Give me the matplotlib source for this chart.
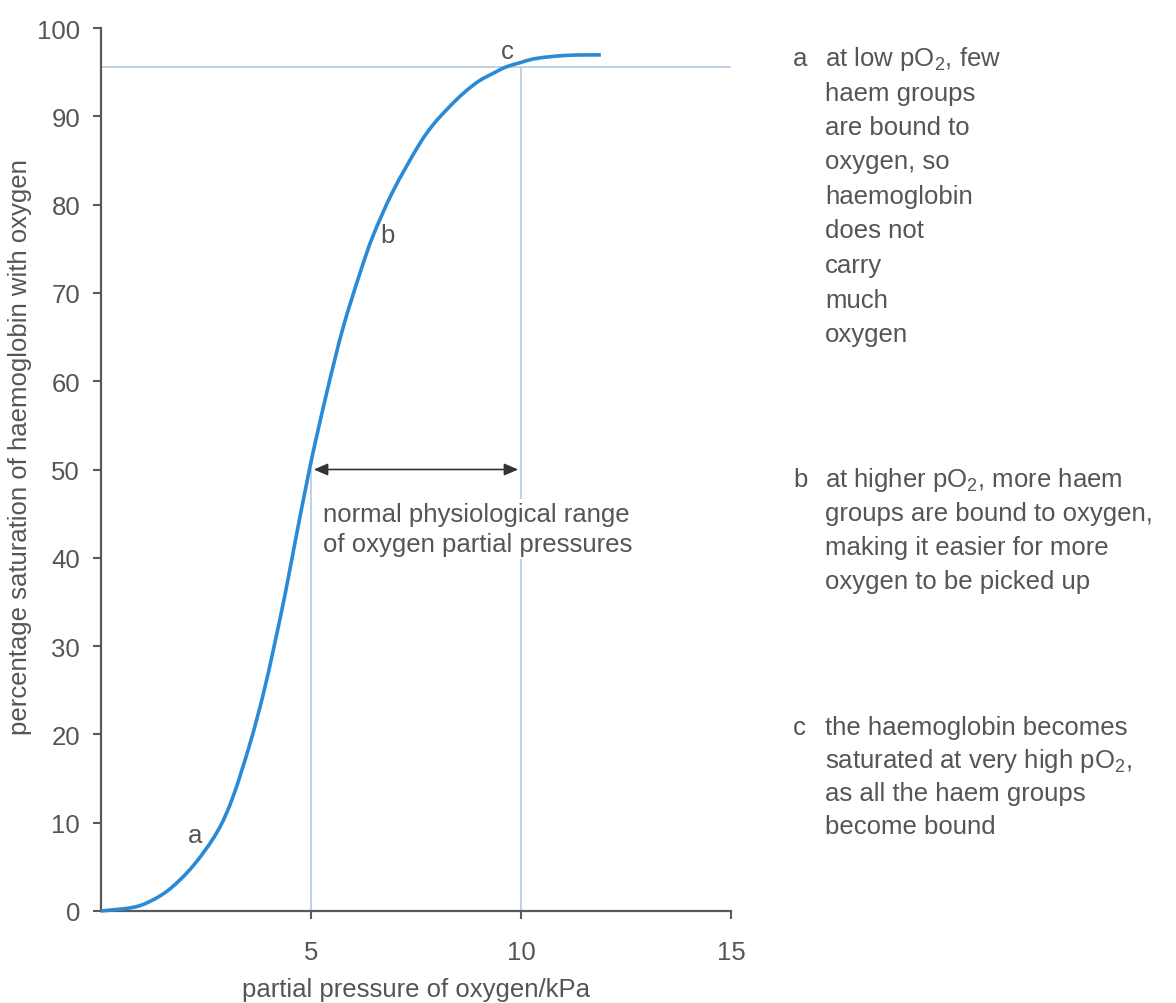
import matplotlib
matplotlib.use("Agg")
import matplotlib.pyplot as plt
from matplotlib.path import Path
from matplotlib.patches import PathPatch

# ---------------- data ----------------
po2_kpa = [0.0, 0.75, 1.17, 1.64, 2.19, 2.76, 3.14, 3.55, 3.86, 4.10, 4.38,
           4.57, 4.98, 5.38, 5.76, 6.17, 6.48, 6.95, 7.55, 7.9, 8.3, 8.65,
           9.0, 9.35, 9.65, 10.0, 10.3, 10.7, 11.1, 11.5, 11.9]
saturation_pct = [0.0, 0.4, 1.1, 2.5, 5.1, 8.9, 12.9, 19.0, 24.5, 29.5, 35.8,
                  40.5, 50.4, 58.8, 66.0, 72.3, 76.5, 81.5, 86.6, 89.0, 91.1,
                  92.7, 94.0, 94.9, 95.6, 96.1, 96.5, 96.75, 96.9, 96.95, 96.95]
x_ticks = [5, 10, 15]
y_ticks = [0, 10, 20, 30, 40, 50, 60, 70, 80, 90, 100]
range_low, range_high = 5, 10
range_sat_low = 50
saturated_level = 95.6

x_label = "partial pressure of oxygen/kPa"
y_label = "percentage saturation of haemoglobin with oxygen"
range_text = "normal physiological range\nof oxygen partial pressures"
block_a = [r"at low pO$_{\mathrm{2}}$, few", "haem groups", "are bound to",
           "oxygen, so", "haemoglobin", "does not", "carry", "much", "oxygen"]
block_b = [r"at higher pO$_{\mathrm{2}}$, more haem",
           "groups are bound to oxygen,", "making it easier for more",
           "oxygen to be picked up"]
block_c = ["the haemoglobin becomes",
           r"saturated at very high pO$_{\mathrm{2}}$,",
           "as all the haem groups", "become bound"]

# ---------------- style ----------------
plt.rcParams['font.family'] = ['Liberation Sans', 'DejaVu Sans']
plt.rcParams['mathtext.fontset'] = 'custom'
plt.rcParams['mathtext.rm'] = 'Liberation Sans'
plt.rcParams['mathtext.it'] = 'Liberation Sans:italic'
plt.rcParams['mathtext.bf'] = 'Liberation Sans:bold'

TXT = '#555555'
AX = '#5a5a5a'
BLUE = '#2a8ad6'
REF = '#b9cfe3'
FS = 18.5

W, H = 1176, 1004
fig = plt.figure(figsize=(W / 100, H / 100), dpi=100)
fig.patch.set_facecolor('white')


def fx(x):
    return x / W


def fy(y):
    return 1 - y / H


ax_left, ax_right, ax_top, ax_bottom = 101, 731, 29, 912
ax = fig.add_axes([fx(ax_left), fy(ax_bottom), (ax_right - ax_left) / W,
                   (ax_bottom - ax_top) / H])
ax.set_xlim(0, 15)
ax.set_ylim(0, 100)
ax.set_facecolor('white')

for s in ['top', 'right']:
    ax.spines[s].set_visible(False)
for s in ['left', 'bottom']:
    ax.spines[s].set_color(AX)
    ax.spines[s].set_linewidth(1.6)

ax.set_xticks(x_ticks)
ax.set_yticks(y_ticks)
ax.tick_params(axis='both', colors=AX, labelcolor=TXT, labelsize=18.5,
               length=6, width=1.5, direction='out')
ax.tick_params(axis='x', pad=15)
ax.tick_params(axis='y', pad=9)

# reference lines
ax.axhline(saturated_level, xmin=0, xmax=1, color=REF, lw=1.3, zorder=1)
ax.plot([range_low, range_low], [0, range_sat_low], color=REF, lw=1.3, zorder=1)
ax.plot([range_high, range_high], [0, saturated_level], color=REF, lw=1.3,
        zorder=1)

# the curve: smooth Bezier path through the read points (Catmull-Rom)
pts = list(zip(po2_kpa, saturation_pct))
verts = [pts[0]]
codes = [Path.MOVETO]
n = len(pts)
for i in range(n - 1):
    p0 = pts[i - 1] if i > 0 else pts[i]
    p1 = pts[i]
    p2 = pts[i + 1]
    p3 = pts[i + 2] if i + 2 < n else pts[i + 1]
    c1 = (p1[0] + (p2[0] - p0[0]) / 6, p1[1] + (p2[1] - p0[1]) / 6)
    c2 = (p2[0] - (p3[0] - p1[0]) / 6, p2[1] - (p3[1] - p1[1]) / 6)
    verts += [c1, c2, p2]
    codes += [Path.CURVE4] * 3
curve = PathPatch(Path(verts, codes), facecolor='none', edgecolor=BLUE,
                  lw=2.6, zorder=4, clip_on=False, capstyle='butt',
                  joinstyle='round')
ax.add_patch(curve)

# double arrow
ax.annotate('', xy=(range_high, range_sat_low), xytext=(range_low, range_sat_low),
            arrowprops=dict(arrowstyle='<|-|>,head_length=0.7,head_width=0.3',
                            mutation_scale=12, color='#333333', lw=1.2,
                            shrinkA=2, shrinkB=2), zorder=5)

ax.text(5.29, 46.3, range_text, fontsize=FS, color=TXT, ha='left', va='top',
        linespacing=1.3, zorder=3,
        bbox=dict(facecolor='white', edgecolor='none', pad=2))

# curve point labels
ax.text(2.24, 7.8, 'a', fontsize=FS, color=TXT, ha='center', va='baseline')
ax.text(6.81, 75.8, 'b', fontsize=FS, color=TXT, ha='center', va='baseline')
ax.text(9.67, 96.6, 'c', fontsize=FS, color=TXT, ha='center', va='baseline')

# axis labels
fig.text(fx(416), fy(997), x_label, fontsize=FS, color=TXT, ha='center',
         va='baseline')
fig.text(fx(20), fy(447), y_label, fontsize=FS, color=TXT, ha='center',
         va='center', rotation=90)

# right-hand explanatory text
def block(letter, lines, first_baseline, step):
    fig.text(fx(793), fy(first_baseline), letter, fontsize=FS, color=TXT,
             ha='left', va='baseline')
    for i, ln in enumerate(lines):
        fig.text(fx(825), fy(first_baseline + i * step), ln, fontsize=FS,
                 color=TXT, ha='left', va='baseline')


block('a', block_a, 66, 34.5)
block('b', block_b, 487, 34)
block('c', block_c, 735, 33)

fig.savefig('out.png', dpi=100, facecolor='white')
